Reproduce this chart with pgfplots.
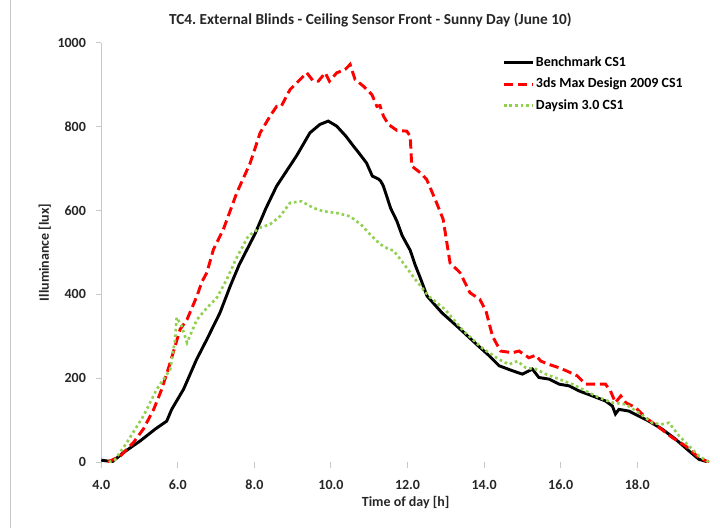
\documentclass[border=0pt]{standalone}
\usepackage{pgfplots}
\pgfplotsset{compat=1.18}
\usepackage{fontspec}
\setmainfont{Carlito}
\frenchspacing
\definecolor{dsgreen}{RGB}{146,208,80}
\definecolor{axgray}{RGB}{200,200,200}
\begin{document}
\begin{tikzpicture}
\path[use as bounding box] (-76pt,-49.5pt) rectangle (464.5pt,347pt);
\draw[axgray,line width=1pt] (-68pt,-49.5pt) -- (-68pt,347pt);
\begin{axis}[
  scale only axis,
  width=457pt, height=315pt,
  xmin=4, xmax=19.9, ymin=0, ymax=1000,
  axis lines=left,
  axis line style={axgray, -},
  x axis line style={draw=none},
  xtick={4,6,...,18},
  xticklabels={4.0,6.0,8.0,10.0,12.0,14.0,16.0,18.0},
  ytick={0,200,...,1000},
  yticklabels={0,200,400,600,800,1000},
  tick align=outside,
  major tick length=4pt,
  tick style={axgray, line width=0.8pt},
  ticklabel style={font=\fontsize{10.5}{12}\selectfont\bfseries, color=black!85},
  xticklabel shift=6pt,
  yticklabel shift=4pt,
  xlabel={Time of day [h]},
  ylabel={Illuminance [lux]},
  label style={font=\fontsize{10.5}{12}\selectfont\bfseries, color=black!85},
  xlabel style={yshift=2pt},
  ylabel style={yshift=-2pt},
  legend style={draw=none, fill=none, at={(0.652,0.979)}, anchor=north west,
    font=\fontsize{10.5}{12}\selectfont\bfseries, row sep=3pt,
    nodes={inner xsep=1pt}},
  legend cell align=left,
  legend image code/.code={\draw[#1] (0pt,0pt) -- (22pt,0pt);},
]
\addplot[black, line width=2.2pt] coordinates {
(4.0,5) (4.15,3) (4.3,2) (4.58,23) (5.02,51) (5.41,79) (5.71,98) (5.84,126)
(6.15,174) (6.49,245) (6.76,293) (7.1,356) (7.37,420) (7.6,470) (8.02,545)
(8.3,605) (8.58,658) (9.1,730) (9.45,785) (9.71,805) (9.93,813) (10.15,801)
(10.39,777) (10.59,753) (10.73,737) (10.93,713) (11.08,682) (11.24,675)
(11.3,670) (11.37,658) (11.56,605) (11.72,575) (11.86,540) (12.07,505)
(12.2,470) (12.33,440) (12.51,396) (12.9,356) (13.33,321) (13.85,277)
(14.13,254) (14.39,230) (14.74,218) (15.0,210) (15.26,222) (15.43,202)
(15.7,198) (15.96,186) (16.22,182) (16.48,170) (16.83,158) (17.17,146)
(17.35,134) (17.43,115) (17.52,126) (17.78,122) (18.04,110) (18.3,98)
(18.65,79) (19.0,55) (19.35,27) (19.61,7) (19.87,0)
};
\addlegendentry{Benchmark CS1}
\addplot[red, line width=2.2pt, dash pattern=on 7pt off 3.5pt] coordinates {
(4.17,0) (4.5,15) (4.84,47) (5.1,79) (5.37,126) (5.58,174) (5.8,237) (5.93,277)
(6.06,317) (6.24,340) (6.5,396) (6.63,430) (6.76,452) (6.93,507) (7.19,555)
(7.54,642) (7.89,713) (8.15,785) (8.41,825) (8.58,848) (8.7,848) (8.93,888)
(9.15,908) (9.37,928) (9.54,908) (9.67,908) (9.85,928) (9.96,908) (10.15,928)
(10.37,936) (10.5,948) (10.63,912) (10.85,896) (11.07,876) (11.2,848)
(11.28,850) (11.37,825) (11.5,805) (11.72,791) (11.98,789) (12.07,777)
(12.11,706) (12.33,690) (12.5,674) (12.76,618) (12.93,579) (13.11,475)
(13.37,452) (13.63,404) (13.89,388) (14.05,360) (14.22,300) (14.43,265)
(14.74,261) (14.91,265) (15.17,249) (15.35,255) (15.48,241) (15.7,233)
(15.96,225) (16.17,217) (16.43,206) (16.65,186) (16.87,186) (17.17,186)
(17.3,170) (17.43,142) (17.57,158) (17.7,142) (17.96,130) (18.22,106)
(18.57,83) (18.91,59) (19.26,39) (19.61,11) (19.87,0)
};
\addlegendentry{3ds Max Design 2009 CS1}
\addplot[dsgreen, line width=2pt, dash pattern=on 2pt off 2.2pt] coordinates {
(4.2,0) (4.35,5) (4.67,47) (5.1,110) (5.45,174) (5.8,221) (5.93,293) (5.97,345)
(6.1,325) (6.24,285) (6.5,340) (6.76,368) (7.02,392) (7.28,436) (7.54,488)
(7.84,539) (8.15,559) (8.41,567) (8.67,586) (8.93,618) (9.23,622) (9.54,606)
(9.8,598) (10.15,594) (10.5,586) (10.8,565) (11.0,545) (11.28,520) (11.52,507)
(11.63,505) (11.86,478) (12.2,436) (12.55,396) (12.98,364) (13.46,313)
(13.94,273) (14.13,261) (14.39,245) (14.65,233) (14.87,241) (15.09,225)
(15.35,222) (15.61,210) (15.96,198) (16.3,186) (16.65,170) (17.0,154)
(17.35,142) (17.7,138) (18.04,118) (18.39,94) (18.61,90) (18.83,94)
(19.09,63) (19.35,39) (19.61,15) (19.87,0)
};
\addlegendentry{Daysim 3.0 CS1}
\end{axis}
\node[font=\fontsize{11.5}{13}\selectfont\bfseries, color=black!85] at (202pt,332pt) {TC4. External Blinds - Ceiling Sensor Front - Sunny Day (June 10)};
\end{tikzpicture}
\end{document}
